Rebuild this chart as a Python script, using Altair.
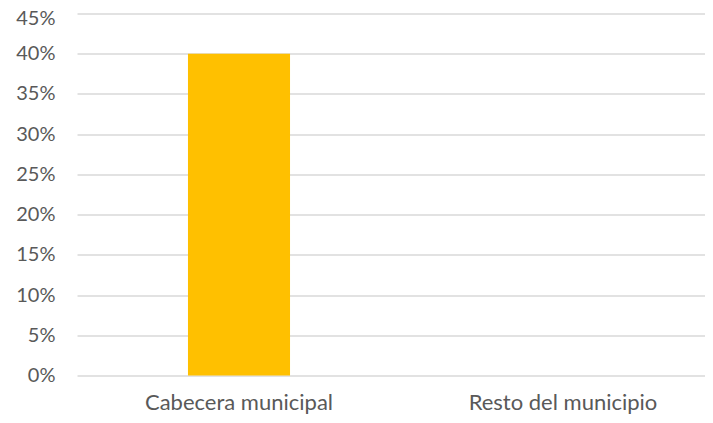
import altair as alt
import pandas as pd

categories = ["Cabecera municipal", "Resto del municipio"]
values = [0.40, 0.0]

df = pd.DataFrame({"cat": categories, "val": values})

chart = alt.Chart(df).mark_bar(color="#FFC000").encode(
    x=alt.X("cat:N", sort=categories, title=None,
            scale=alt.Scale(paddingInner=0.685, paddingOuter=0.3425, range=[0, 648]),
            axis=alt.Axis(labelAngle=0, labelFont="Lato", labelFontSize=22,
                          labelColor="#595959", labelPadding=17, ticks=False,
                          labelLimit=0, domain=False, grid=False)),
    y=alt.Y("val:Q", title=None,
            scale=alt.Scale(domain=[0, 0.45], nice=False),
            axis=alt.Axis(values=[i * 0.05 for i in range(10)], format=".0%",
                          labelFont="Lato", labelFontSize=20, labelColor="#595959",
                          labelPadding=22, ticks=False, domain=False,
                          labelBaseline={"condition": {"test": "datum.value >= 0.449", "value": "top"}, "value": "middle"},
                          labelOffset={"condition": {"test": "datum.value >= 0.449", "value": -5.5}, "value": 0},
                          gridColor="#D9D9D9", gridWidth=1.5)),
).properties(
    width=628, height=362,
    autosize="none",
    padding={"left": 69, "top": 5.5, "right": 0, "bottom": 39.5},
).configure_view(stroke=None)

chart.save("out.html", embed_options={"renderer": "svg", "actions": False})
